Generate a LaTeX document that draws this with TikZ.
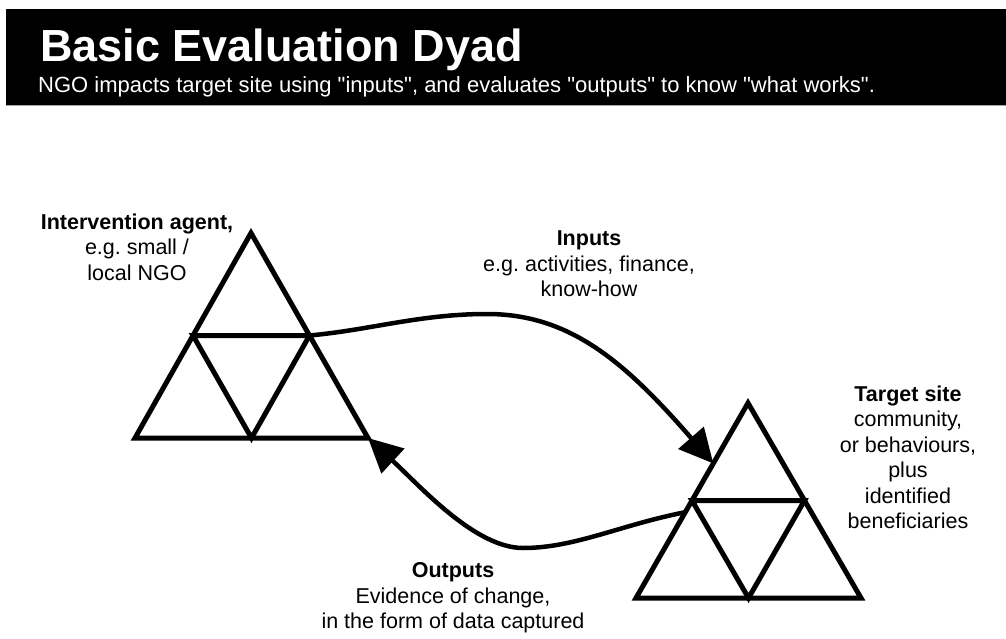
\documentclass[tikz,border=0pt]{standalone}
\usepackage{fontspec}
\setmainfont{Liberation Sans}[Ligatures=TeXOff]
\usetikzlibrary{arrows.meta,calc}
\frenchspacing
\begin{document}
\begin{tikzpicture}[x=1pt,y=-1pt,
  tri/.style={line width=5pt, line join=miter},
  flow/.style={line width=4.5pt, -{Triangle[length=34pt,width=33pt]}},
  lbl/.style={align=center, anchor=north, inner sep=0pt,
              font=\fontsize{21.5}{25.5}\selectfont},
]
\useasboundingbox (0,0) rectangle (1006,639);
\fill[white] (0,0) rectangle (1006,639);

% header band
\fill[black] (6,9) rectangle (1006,105);
\draw[black!35, line width=1.2pt] (6,105.6) -- (1006,105.6);
\node[anchor=base west, inner sep=0pt, text=white,
      font=\fontsize{45}{54}\selectfont\bfseries] (title) at (40,62) {Basic Evaluation Dyad};
\node[anchor=base west, inner sep=0pt, text=white,
      font=\fontsize{22}{26}\selectfont] (subtitle) at (38,93)
  {NGO impacts target site using "inputs", and evaluates "outputs" to know "what works".};

% intervention agent triangle
\coordinate (A-top) at (251,233);
\coordinate (A-bl) at (135,438);
\coordinate (A-br) at (368,438);
\coordinate (A-ml) at ($(A-top)!0.5!(A-bl)$);
\coordinate (A-mr) at ($(A-top)!0.5!(A-br)$);
\coordinate (A-mb) at ($(A-bl)!0.5!(A-br)$);
\draw[tri] (A-top) -- (A-br) -- (A-bl) -- cycle;
\draw[tri] (A-ml) -- (A-mr) -- (A-mb) -- cycle;

% target site triangle
\coordinate (B-top) at (748,403);
\coordinate (B-bl) at (636,598);
\coordinate (B-br) at (861,598);
\coordinate (B-ml) at ($(B-top)!0.5!(B-bl)$);
\coordinate (B-mr) at ($(B-top)!0.5!(B-br)$);
\coordinate (B-mb) at ($(B-bl)!0.5!(B-br)$);
\draw[tri] (B-top) -- (B-br) -- (B-bl) -- cycle;
\draw[tri] (B-ml) -- (B-mr) -- (B-mb) -- cycle;

% connector ends on the target triangle
\coordinate (B-in) at ($(B-top)!0.31!(B-bl)$);
\coordinate (B-out) at ($(B-top)!0.56!(B-bl)$);

% inputs and outputs
\draw[flow] (A-mr) .. controls (370,330) and (420,314) .. (487,314)
            .. controls (570,314) and (625,362) .. (B-in);
\draw[flow] (B-out) .. controls (620,525) and (575,548) .. (523,548)
            .. controls (475,548) and (420,486) .. (A-br);

% labels
\node[lbl] (agent) at (137,213.6) {\textbf{Intervention agent,}\\e.g. small /\\local NGO};
\node[lbl] (inputs) at (589,230.6) {\textbf{Inputs}\\e.g. activities, finance,\\know-how};
\node[lbl] (target) at (908,385.6) {\textbf{Target site}\\community,\\or behaviours,\\plus\\identified\\beneficiaries};
\node[lbl] (outputs) at (453,562.6) {\textbf{Outputs}\\Evidence of change,\\in the form of data captured};
\end{tikzpicture}
\end{document}
